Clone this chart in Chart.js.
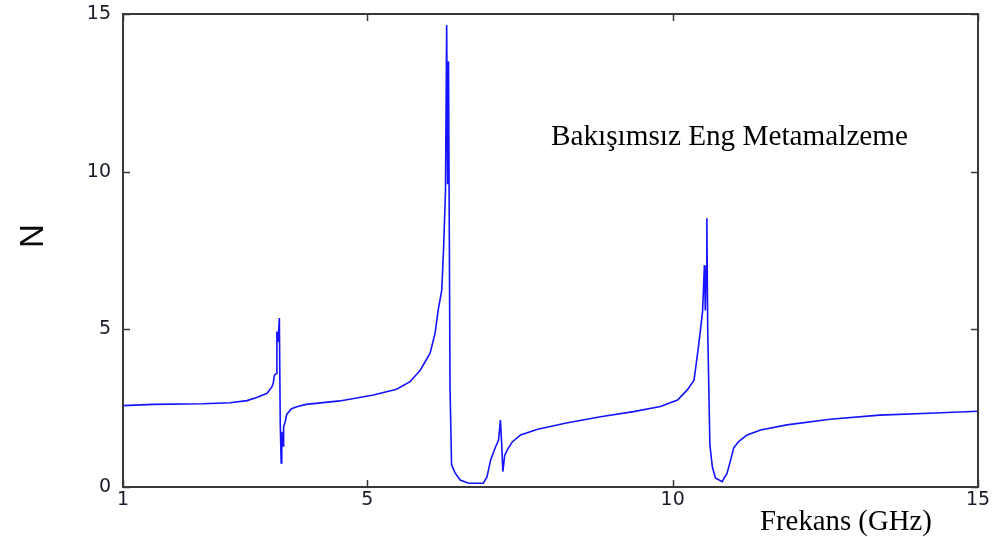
<!DOCTYPE html>
<html>
<head>
<meta charset="utf-8">
<script src="https://cdn.jsdelivr.net/npm/chart.js@4/dist/chart.umd.min.js"></script>
<style>
html,body{margin:0;padding:0;background:#fff;}
#wrap{width:997px;height:537px;position:relative;}
</style>
</head>
<body>
<div id="wrap"><canvas id="c" width="997" height="537"></canvas></div>
<script>
const freqGHz = [1.00,1.49,2.31,2.75,3.03,3.19,3.36,3.44,3.46,3.48,3.51,3.52,3.54,3.56,3.575,3.59,3.60,3.62,3.63,3.66,3.68,3.76,3.86,4.00,4.55,5.10,5.48,5.70,5.87,6.03,6.11,6.16,6.22,6.25,6.28,6.30,6.315,6.33,6.355,6.37,6.38,6.44,6.52,6.66,6.90,6.96,7.02,7.10,7.15,7.18,7.20,7.22,7.25,7.29,7.37,7.51,7.79,8.28,8.82,9.36,9.80,10.08,10.24,10.35,10.38,10.43,10.49,10.52,10.535,10.55,10.56,10.575,10.61,10.65,10.70,10.81,10.89,10.95,11.00,11.08,11.22,11.44,11.87,12.58,13.39,14.20,15.00];
const indexN = [2.58,2.62,2.64,2.67,2.74,2.84,2.97,3.18,3.30,3.55,3.60,4.93,4.60,5.36,2.00,0.76,1.75,1.30,1.90,2.10,2.30,2.48,2.55,2.62,2.73,2.92,3.10,3.34,3.71,4.25,4.88,5.60,6.25,7.60,9.35,14.65,9.60,13.50,3.14,3.14,0.70,0.44,0.22,0.12,0.12,0.32,0.86,1.27,1.49,2.12,1.40,0.49,1.00,1.17,1.42,1.65,1.83,2.04,2.23,2.39,2.55,2.76,3.08,3.39,3.82,4.56,5.56,7.04,5.60,7.00,8.52,4.93,1.33,0.64,0.29,0.17,0.43,0.86,1.24,1.44,1.65,1.81,1.97,2.15,2.28,2.34,2.40];
const xTicks = [1,5,10,15];
const yTicks = [0,5,10,15];
const yLabel = "N";
const xLabel = "Frekans (GHz)";
const noteText = "Bakışımsız Eng Metamalzeme";

const points = freqGHz.map((f,i)=>({x:f,y:indexN[i]}));

function fitText(ctx, text, family, targetW, x, y, align){
  ctx.font = "100px " + family;
  const w = ctx.measureText(text).width;
  const size = 100*targetW/w;
  ctx.font = size.toFixed(2)+"px " + family;
  ctx.textAlign = align;
  ctx.fillText(text, x, y);
}

const framePlugin = {
  id:'frame',
  afterDraw(chart){
    const {ctx, chartArea:a, scales} = chart;
    ctx.save();
    ctx.strokeStyle = '#383838';
    ctx.lineWidth = 2;
    ctx.strokeRect(a.left, a.top, a.right-a.left, a.bottom-a.top);
    ctx.lineWidth = 1.5;
    ctx.beginPath();
    const tl = 7;
    xTicks.forEach(v=>{
      const px = Math.round(scales.x.getPixelForValue(v))+0.5;
      ctx.moveTo(px, a.bottom); ctx.lineTo(px, a.bottom-tl);
      ctx.moveTo(px, a.top); ctx.lineTo(px, a.top+tl);
    });
    yTicks.forEach(v=>{
      const py = Math.round(scales.y.getPixelForValue(v))+0.5;
      ctx.moveTo(a.left, py); ctx.lineTo(a.left+tl, py);
      ctx.moveTo(a.right, py); ctx.lineTo(a.right-tl, py);
    });
    ctx.stroke();
    ctx.fillStyle = '#000';
    ctx.textBaseline = 'alphabetic';
    fitText(ctx, noteText, "'Liberation Serif', 'Times New Roman', serif", 357, 551, 145, 'left');
    fitText(ctx, xLabel, "'Liberation Serif', 'Times New Roman', serif", 172, 760, 530, 'left');
    ctx.save();
    ctx.translate(34, 236);
    ctx.rotate(-Math.PI/2);
    ctx.font = "33px 'Liberation Sans', Arial, sans-serif";
    ctx.textAlign = 'center';
    ctx.textBaseline = 'middle';
    ctx.fillStyle = '#0a0a0a';
    ctx.fillText(yLabel, 0, 0);
    ctx.restore();
    ctx.restore();
  }
};

const hiddenGrid = (len)=>({display:true, drawOnChartArea:false, drawTicks:true, tickLength:len, color:'rgba(0,0,0,0)'});

const chart = new Chart(document.getElementById('c'), {
  type:'line',
  data:{datasets:[{data:points, borderColor:'#1414ff', borderWidth:1.6, pointRadius:0, tension:0, fill:false}]},
  options:{
    responsive:false, animation:false, devicePixelRatio:1,
    layout:{padding:{left:0, top:14, right:19, bottom:0}},
    plugins:{legend:{display:false}, tooltip:{enabled:false}},
    scales:{
      x:{type:'linear', min:1, max:15,
         afterBuildTicks(s){ s.ticks = xTicks.map(v=>({value:v})); },
         afterFit(s){ s.height = 50; },
         grid:hiddenGrid(2), border:{display:false},
         ticks:{font:{family:"'DejaVu Sans', sans-serif", size:19}, color:'#1a1a2a', padding:0, maxRotation:0}},
      y:{type:'linear', min:0, max:15,
         afterBuildTicks(s){ s.ticks = yTicks.map(v=>({value:v})); },
         afterFit(s){ s.width = 123; },
         grid:hiddenGrid(12), border:{display:false},
         ticks:{font:{family:"'DejaVu Sans', sans-serif", size:19}, color:'#1a1a2a', padding:0}}
    }
  },
  plugins:[framePlugin]
});
</script>
</body>
</html>
